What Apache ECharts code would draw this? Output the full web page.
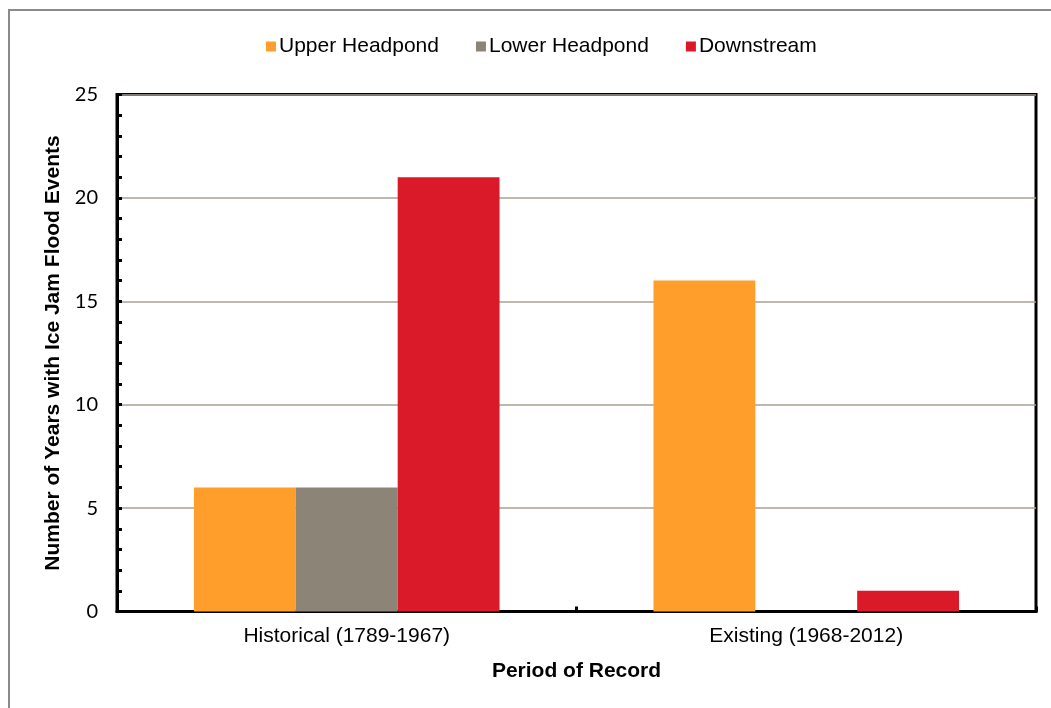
<!DOCTYPE html>
<html>
<head>
<meta charset="utf-8">
<script src="https://cdn.jsdelivr.net/npm/echarts@6/dist/echarts.min.js"></script>
<style>
  html, body { margin: 0; padding: 0; background: #ffffff; }
  #chart { width: 1051px; height: 708px; }
</style>
</head>
<body>
<div id="chart"></div>
<script>
// Periods of record on the x axis
const periods = ['Historical (1789-1967)', 'Existing (1968-2012)'];

// Number of years with ice jam flood events, by location
const upperHeadpond = [6, 16];
const lowerHeadpond = [6, 0];
const downstream = [21, 1];

const seriesNames = ['Upper Headpond', 'Lower Headpond', 'Downstream'];
const seriesColors = ['#FF9E2B', '#8C8577', '#DA1A28'];

const yMin = 0;
const yMax = 25;
const yStep = 5;

const chart = echarts.init(document.getElementById('chart'), null, { renderer: 'canvas' });

const arial = 'Liberation Sans, Arial, sans-serif';

const barDefaults = {
  type: 'bar',
  barGap: '0%',
  barCategoryGap: '33.5%'
};

chart.setOption({
  backgroundColor: '#ffffff',
  animation: false,
  graphic: [{
    type: 'rect',
    shape: { x: 9, y: 10, width: 1100, height: 760 },
    style: { fill: 'none', stroke: '#8a8a8a', lineWidth: 2 },
    silent: true,
    z: -10
  }],
  legend: {
    data: seriesNames,
    top: 31,
    left: 261,
    itemWidth: 10,
    itemHeight: 10,
    itemGap: 37,
    icon: 'rect',
    textStyle: { fontFamily: arial, fontSize: 21, color: '#000000', padding: [0, 0, 0, -2] }
  },
  grid: {
    left: 117,
    right: 15,
    top: 94.5,
    bottom: 96.5,
    show: true,
    borderColor: '#000000',
    borderWidth: 3,
    containLabel: false
  },
  xAxis: {
    type: 'category',
    data: periods,
    name: 'Period of Record',
    nameLocation: 'middle',
    nameGap: 49,
    nameTextStyle: { fontFamily: arial, fontSize: 21, fontWeight: 'bold', color: '#000000' },
    axisLine: { show: true, lineStyle: { color: '#000000', width: 3 } },
    axisTick: { show: true, inside: true, length: 5, lineStyle: { color: '#000000', width: 3 } },
    axisLabel: { fontFamily: arial, fontSize: 21, color: '#000000', margin: 14 },
    splitLine: { show: false }
  },
  yAxis: {
    type: 'value',
    min: yMin,
    max: yMax,
    interval: yStep,
    name: 'Number of Years with Ice Jam Flood Events',
    nameLocation: 'middle',
    nameGap: 46,
    nameTextStyle: { fontFamily: arial, fontSize: 21, fontWeight: 'bold', color: '#000000' },
    axisLine: { show: true, lineStyle: { color: '#000000', width: 3 } },
    axisTick: { show: true, inside: true, length: 5, lineStyle: { color: '#000000', width: 3 } },
    minorTick: { show: true, splitNumber: 5, length: 5, lineStyle: { color: '#000000', width: 3 } },
    axisLabel: { fontFamily: 'Lato, Open Sans, sans-serif', fontSize: 20, color: '#000000', margin: 19 },
    splitLine: { show: true, lineStyle: { color: '#A8A094', width: 1.5 } }
  },
  series: [
    Object.assign({}, barDefaults, { name: seriesNames[0], data: upperHeadpond, itemStyle: { color: seriesColors[0] } }),
    Object.assign({}, barDefaults, { name: seriesNames[1], data: lowerHeadpond, itemStyle: { color: seriesColors[1] } }),
    Object.assign({}, barDefaults, { name: seriesNames[2], data: downstream, itemStyle: { color: seriesColors[2] } })
  ]
});
</script>
</body>
</html>
